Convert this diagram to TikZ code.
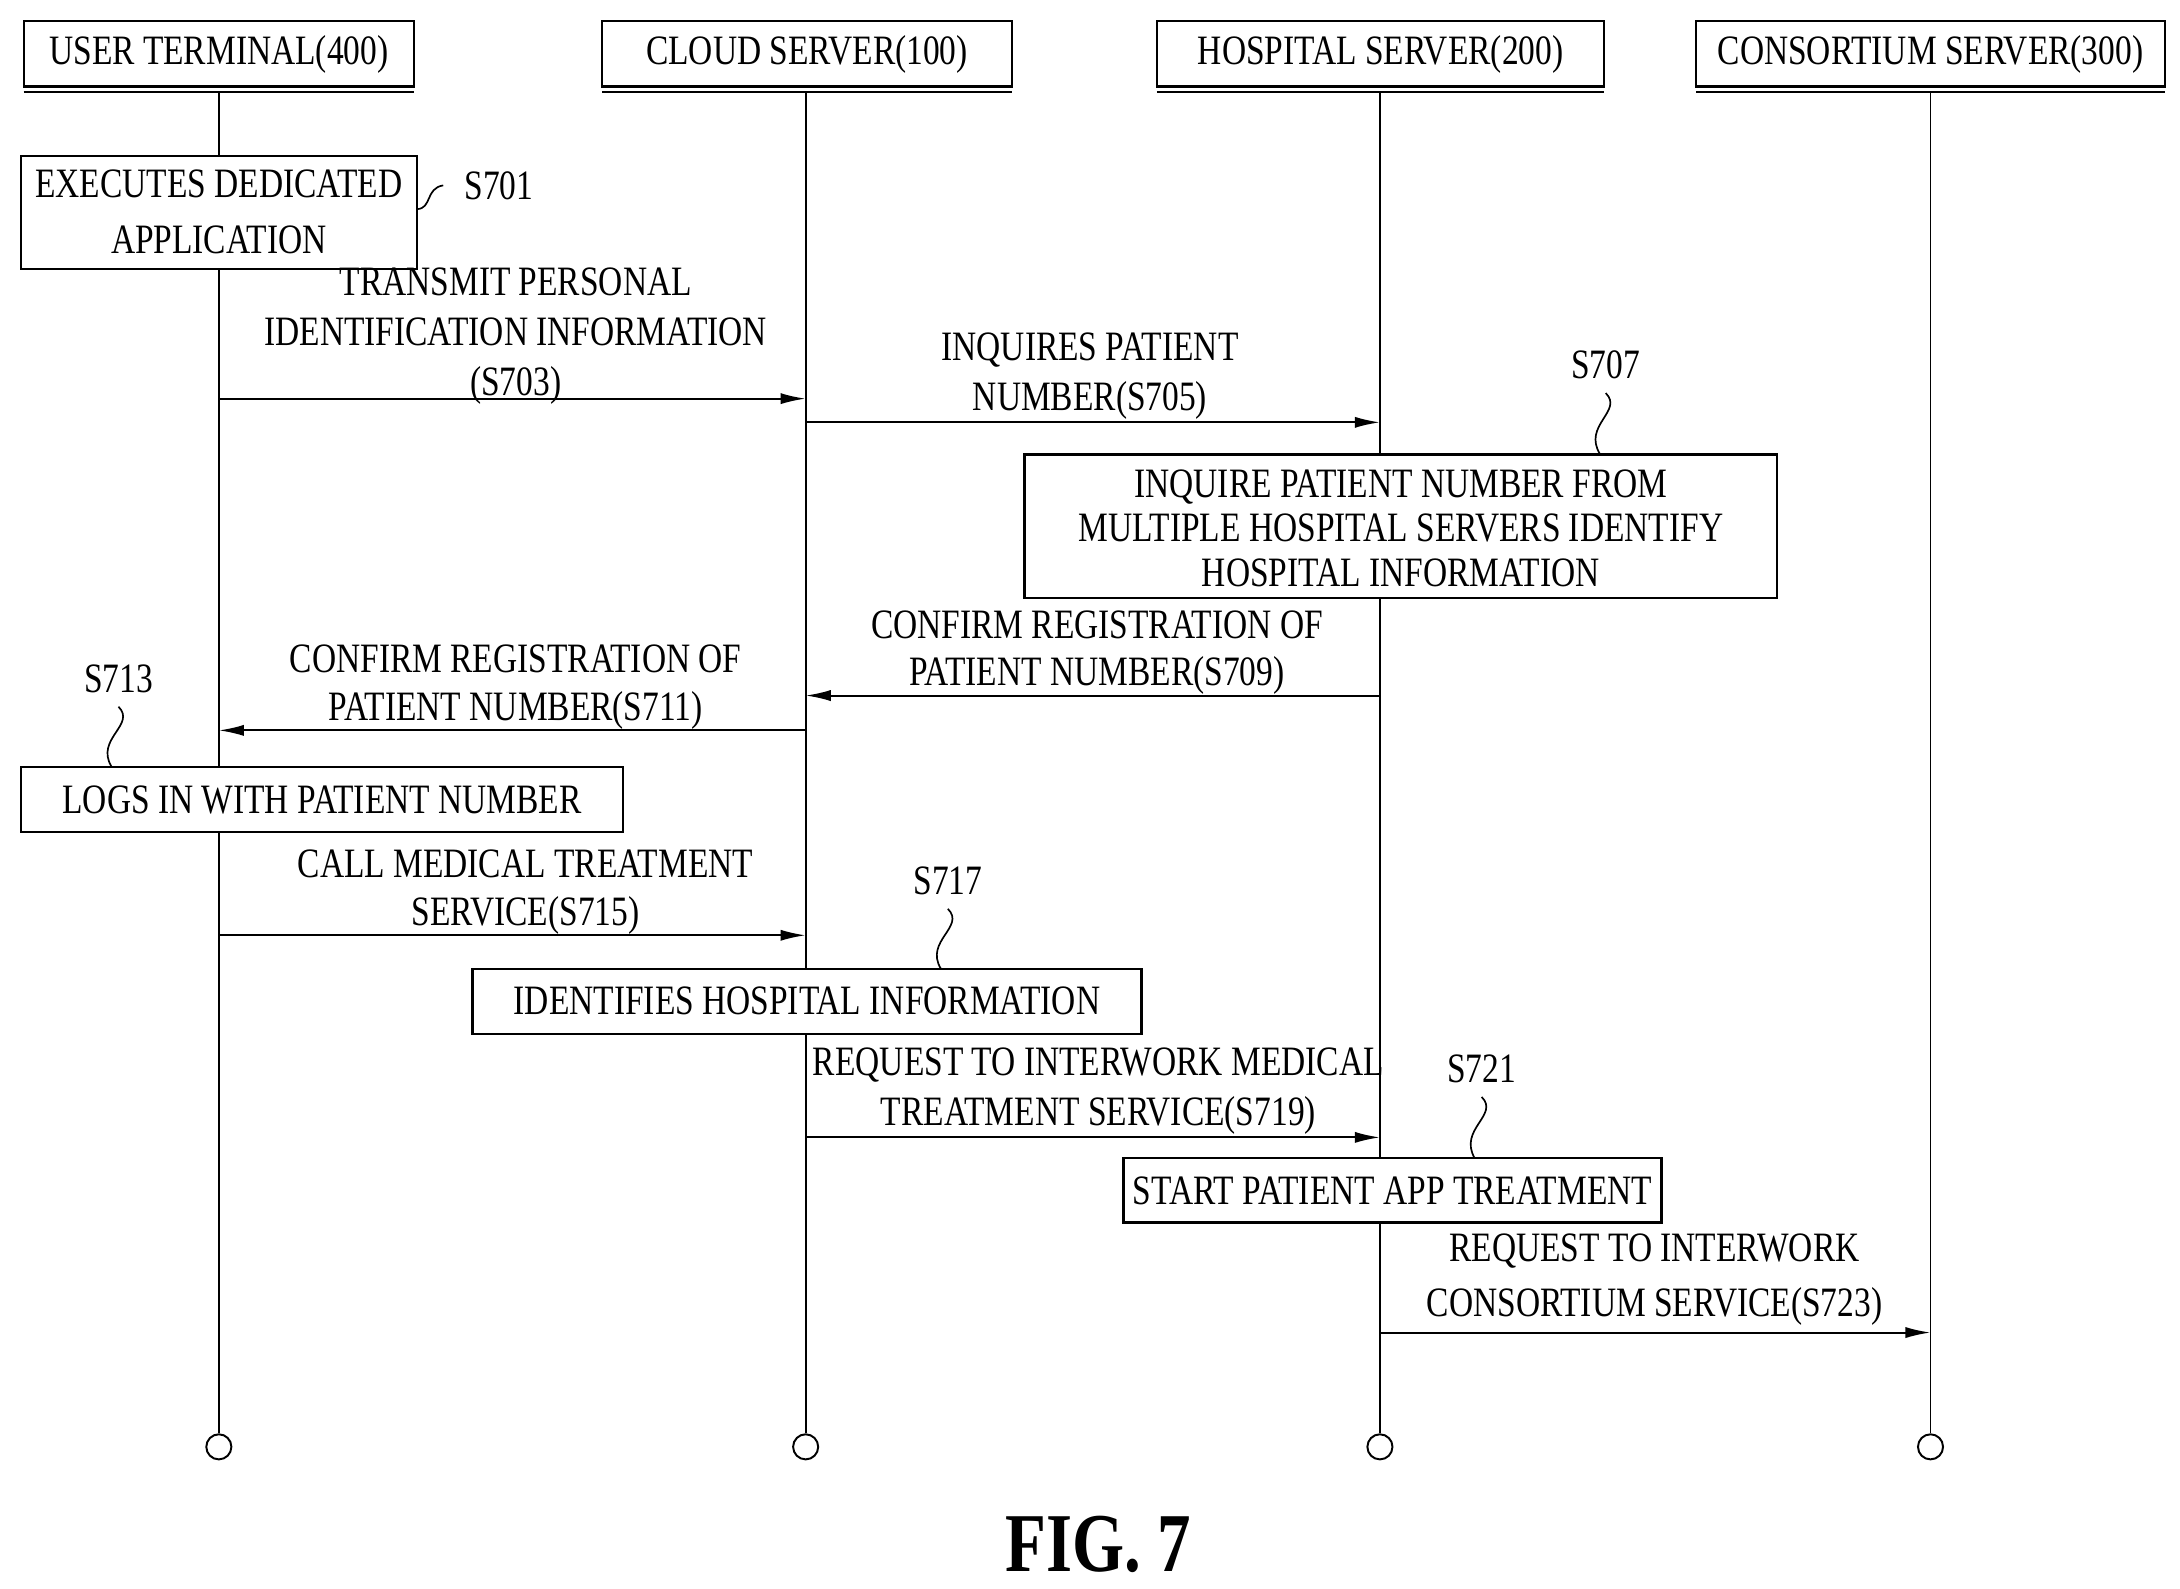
\documentclass[tikz,border=0pt]{standalone}
\usepackage{fontspec}
\setmainfont{Liberation Serif}[FakeStretch=0.8]
\usetikzlibrary{arrows.meta}
\begin{document}
\begin{tikzpicture}[x=0.5pt,y=-0.5pt,
  txt/.style={font=\fontsize{15}{14}\selectfont,align=center,inner sep=0pt},
  box/.style={draw,line width=0.8pt},
  life/.style={line width=0.7pt},
  msg/.style={line width=0.7pt,-{Latex[length=9pt,width=4pt]}},
  squig/.style={line width=0.6pt}]
\useasboundingbox (0,0) rectangle (1564,1140);
% headers
\foreach \n/\a/\b/\t in {u/17/297/USER TERMINAL(400),c/432/726/CLOUD SERVER(100),h/830/1151/HOSPITAL SERVER(200),k/1217/1553/CONSORTIUM SERVER(300)}{
  \draw[box] (\a,15) rectangle (\b,62);
  \draw[line width=0.8pt] (\a,66) -- (\b,66);
  \node[txt] (H\n) at ({(\a+\b)/2},39) {\t};
}
% lifelines
\foreach \n/\x in {u/157,c/578,h/990,k/1385}{
  \coordinate (T\n) at (\x,66);
  \node[draw,circle,minimum size=9pt,inner sep=0pt,line width=0.7pt] (E\n) at (\x,1038) {};
  \draw[life] (T\n) -- (E\n);
}
% boxes
\draw[box,fill=white] (15,112) rectangle (299,193);
\node[txt] (b701) at (157,152) {EXECUTES DEDICATED\\[6pt]APPLICATION};
\node[txt] (l701) at (358,133) {S701};
\draw[squig] (299,150) .. controls (310,150) and (305,135) .. (318,133);

\draw[box,fill=white] (735,326) rectangle (1275,429);
\node[txt] (b707) at (1005,379) {INQUIRE PATIENT NUMBER FROM\\[2pt]MULTIPLE HOSPITAL SERVERS IDENTIFY\\[2pt]HOSPITAL INFORMATION};
\node[txt] (l707) at (1152,262) {S707};
\draw[squig] (1152,282) .. controls (1165,295) and (1135,305) .. (1148,326);

\draw[box,fill=white] (15,550) rectangle (447,597);
\node[txt] (b713) at (231,574) {LOGS IN WITH PATIENT NUMBER};
\node[txt] (l713) at (85,487) {S713};
\draw[squig] (85,507) .. controls (98,520) and (68,530) .. (80,550);

\draw[box,fill=white] (339,695) rectangle (819,742);
\node[txt] (b717) at (579,718) {IDENTIFIES HOSPITAL INFORMATION};
\node[txt] (l717) at (680,632) {S717};
\draw[squig] (680,652) .. controls (693,665) and (663,675) .. (675,695);

\draw[box,fill=white] (806,831) rectangle (1192,877);
\node[txt] (b721) at (999,854) {START PATIENT APP TREATMENT};
\node[txt] (l721) at (1063,767) {S721};
\draw[squig] (1063,787) .. controls (1076,800) and (1046,810) .. (1058,831);

% messages
\foreach \n/\x in {u/157,c/578,h/990,k/1385}{
 \foreach \y in {286,303,499,524,671,816,956}{ \coordinate (\n\y) at (\x,\y); }}
\draw[msg] (u286) -- (c286);
\node[txt] (m703) at (370,241) {TRANSMIT PERSONAL\\[4pt]IDENTIFICATION INFORMATION\\[4pt](S703)};
\draw[msg] (c303) -- (h303);
\node[txt] (m705) at (782,270) {INQUIRES PATIENT\\[4pt]NUMBER(S705)};
\draw[msg] (h499) -- (c499);
\node[txt] (m709) at (787,468) {CONFIRM REGISTRATION OF\\[3pt]PATIENT NUMBER(S709)};
\draw[msg] (c524) -- (u524);
\node[txt] (m711) at (370,493) {CONFIRM REGISTRATION OF\\[3pt]PATIENT NUMBER(S711)};
\draw[msg] (u671) -- (c671);
\node[txt] (m715) at (377,640) {CALL MEDICAL TREATMENT\\[3pt]SERVICE(S715)};
\draw[msg] (c816) -- (h816);
\node[txt] (m719) at (788,783) {REQUEST TO INTERWORK MEDICAL\\[4pt]TREATMENT SERVICE(S719)};
\draw[msg] (h956) -- (k956);
\node[txt] (m723) at (1187,918) {REQUEST TO INTERWORK\\[6pt]CONSORTIUM SERVICE(S723)};

\node[font=\fontsize{30}{30}\bfseries\selectfont] (fig) at (788,1108) {FIG. 7};
\end{tikzpicture}
\end{document}
